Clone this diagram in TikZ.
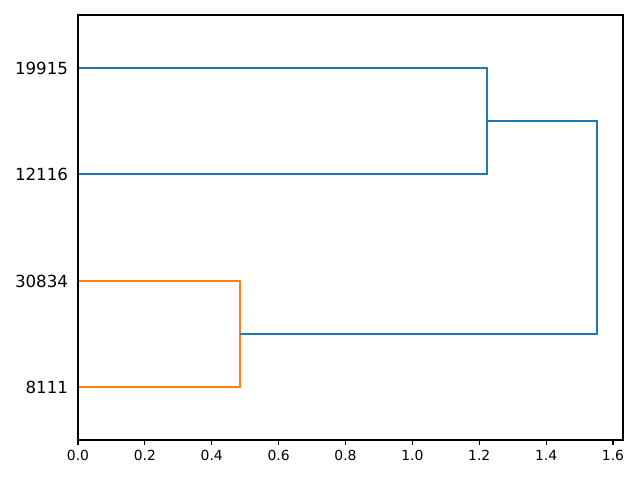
\documentclass[tikz,border=0pt]{standalone}
\usepackage{fontspec}
\setmainfont{DejaVu Sans}
\definecolor{cblue}{HTML}{1F77B4}
\definecolor{corange}{HTML}{FF7F0E}
\begin{document}
\begin{tikzpicture}[x=0.72pt,y=-0.72pt,
  link/.style={line width=1.5pt,line cap=butt,line join=miter},
  spine/.style={line width=0.8pt},
  tick/.style={line width=0.8pt},
  ylab/.style={anchor=east,inner sep=0pt,font=\fontsize{12}{14}\selectfont},
  xlab/.style={anchor=north,inner sep=0pt,font=\fontsize{10}{12}\selectfont}]
\useasboundingbox (0,0) rectangle (640,480);
% leaves
\coordinate (l1) at (78,68.1);
\coordinate (l2) at (78,174.4);
\coordinate (l3) at (78,280.6);
\coordinate (l4) at (78,386.9);
% joins
\coordinate (jo) at (240,333.75);
\coordinate (jb) at (487.3,121.25);
\coordinate (jt) at (597,227.5);
% orange cluster
\draw[link,corange] (l3) -- (jo |- l3) -- (jo |- l4) -- (l4);
% blue clusters
\draw[link,cblue] (l1) -- (jb |- l1) -- (jb |- l2) -- (l2);
\draw[link,cblue] (jo) -- (jt |- jo) -- (jt |- jb) -- (jb);
% frame
\draw[spine] (78,15) rectangle (623,440);
% y labels
\node[ylab] (t1) at (68.3,68.6) {19915};
\node[ylab] (t2) at (68.3,174.9) {12116};
\node[ylab] (t3) at (68.3,281.1) {30834};
\node[ylab] (t4) at (68.3,387.4) {8111};
% x ticks
\foreach \v/\t in {0/0.0,1/0.2,2/0.4,3/0.6,4/0.8,5/1.0,6/1.2,7/1.4,8/1.6}{
  \draw[tick] ({78+66.875*\v},440) -- ++(0,4.86);
  \node[xlab] (x\v) at ({78+66.875*\v},449.7) {\t};
}
\end{tikzpicture}
\end{document}
